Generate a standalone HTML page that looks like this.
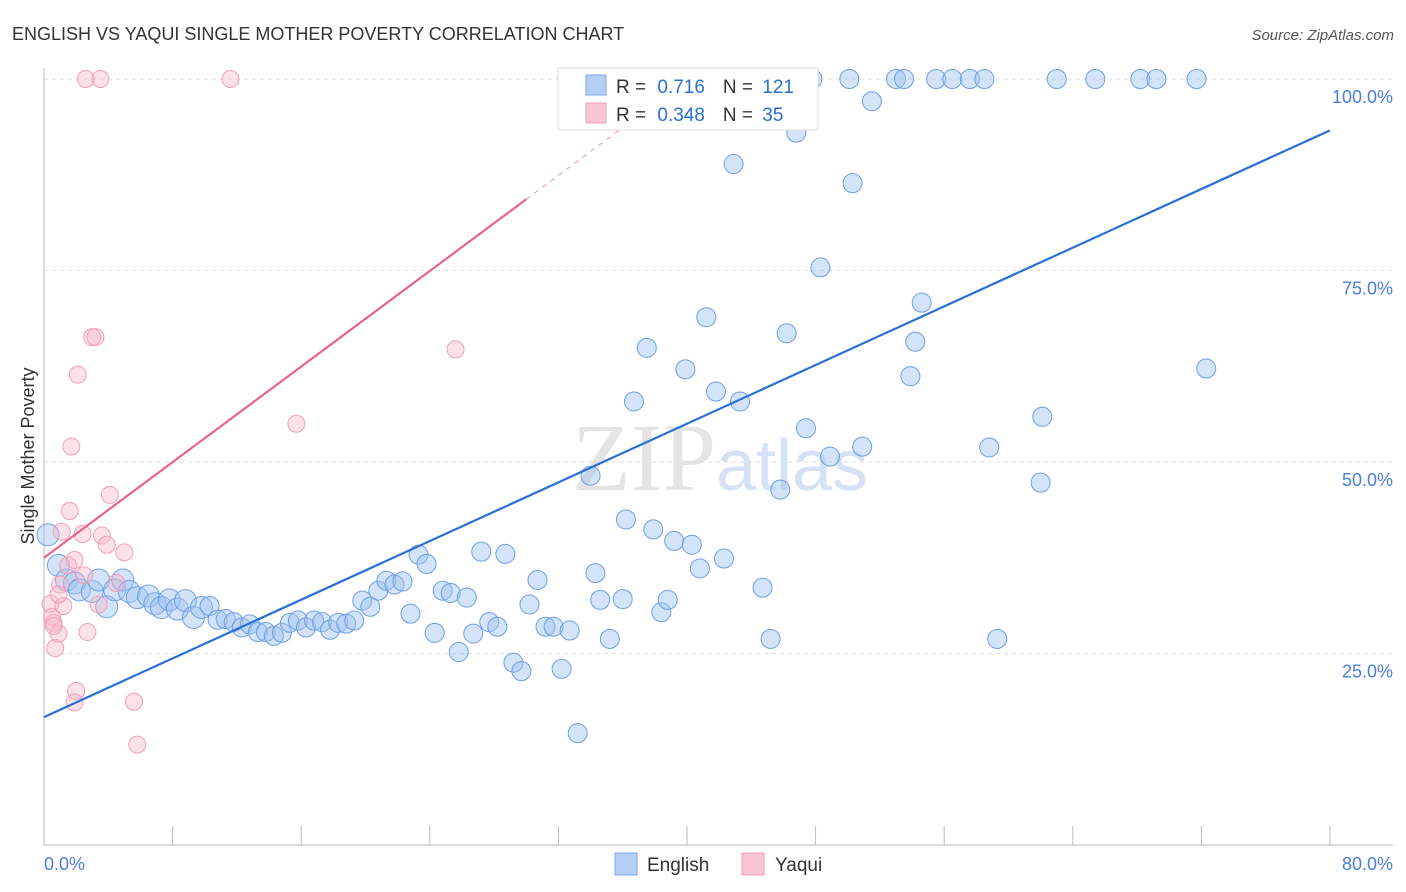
<!DOCTYPE html>
<html><head><meta charset="utf-8"><style>
body{margin:0;background:#fff;font-family:"Liberation Sans",sans-serif}
svg{display:block}
</style></head><body>
<svg id="chart" width="1406" height="892" xmlns="http://www.w3.org/2000/svg" font-family="Liberation Sans, sans-serif">
<text x="12" y="40" font-size="18" fill="#333">ENGLISH VS YAQUI SINGLE MOTHER POVERTY CORRELATION CHART</text>
<text x="1394" y="40" font-size="15" fill="#555" text-anchor="end" font-style="italic">Source: ZipAtlas.com</text>
<text x="720" y="490" font-size="96" fill="#e4e4e4" text-anchor="middle" font-family="Liberation Serif, serif">ZIP<tspan fill="#d6e2f4" font-family="Liberation Sans, sans-serif" font-size="72">atlas</tspan></text>
<g id="grid"></g><g id="axes"></g><g id="pts"></g><g id="lines"></g>
<text transform="translate(34,456) rotate(-90)" font-size="18" fill="#333" text-anchor="middle">Single Mother Poverty</text>
<g>
<rect x="558" y="68" width="260" height="62" fill="#fff" stroke="#ddd"/>
<rect x="586" y="75" width="20" height="20" fill="#b4cff3" stroke="#7aaae8"/>
<rect x="586" y="103" width="20" height="20" fill="#fac4d2" stroke="#f0a0b8"/>
<text x="616" y="93" font-size="19" fill="#333">R = <tspan fill="#2a6fd6" dx="6">0.716</tspan><tspan dx="18" fill="#333">N = </tspan><tspan fill="#2a6fd6" dx="4">121</tspan></text>
<text x="616" y="121" font-size="19" fill="#333">R = <tspan fill="#2a6fd6" dx="6">0.348</tspan><tspan dx="18" fill="#333">N = </tspan><tspan fill="#2a6fd6" dx="4">35</tspan></text>
</g>
<g>
<rect x="615" y="853" width="22" height="22" fill="#b4cff3" stroke="#7aaae8"/>
<text x="647" y="871" font-size="19" fill="#333">English</text>
<rect x="742" y="853" width="22" height="22" fill="#fac4d2" stroke="#f0a0b8"/>
<text x="775" y="871" font-size="19" fill="#333">Yaqui</text>
</g>
</svg>
<script>
const englishX=[0.25,0.9,1.4,1.9,2.2,3.0,3.4,3.9,4.4,4.9,5.3,5.8,6.5,6.9,7.3,7.8,8.3,8.8,9.3,9.8,10.3,10.8,11.3,11.8,12.3,12.8,13.3,13.8,14.3,14.8,15.3,15.8,16.3,16.8,17.3,17.8,18.3,18.8,19.3,19.8,20.3,20.8,21.3,21.8,22.3,22.8,23.3,23.8,24.3,24.8,25.3,25.8,26.3,26.7,27.2,27.7,28.2,28.7,29.2,29.7,30.2,30.7,31.2,31.7,32.2,32.7,33.2,34.0,34.3,34.6,35.2,36.0,36.2,36.7,37.5,37.9,38.4,38.8,39.2,39.9,40.3,40.8,41.2,41.8,42.3,42.9,43.3,43.9,44.7,45.2,45.8,46.2,46.8,47.4,47.8,48.3,48.9,50.1,50.3,50.9,51.5,53.0,53.5,53.9,54.2,54.6,55.5,56.5,57.6,58.5,58.8,59.3,62.0,62.1,63.0,65.4,68.2,69.2,71.7,72.3];
const englishY=[40.5,36.5,34.6,34.2,33.3,33.1,34.6,31.1,33.3,34.6,33.1,32.3,32.5,31.5,31.0,32.0,30.8,31.9,29.7,31.0,31.2,29.4,29.5,29.1,28.4,28.8,27.8,27.8,27.3,27.7,29.0,29.3,28.4,29.3,29.1,28.1,29.0,28.9,29.3,31.9,31.1,33.2,34.5,34.0,34.4,30.2,37.9,36.7,27.7,33.2,32.9,25.2,32.3,27.6,38.3,29.1,28.5,38.0,23.8,22.7,31.4,34.6,28.5,28.5,23.0,28.0,14.6,48.2,35.5,32.0,26.9,32.1,42.5,57.9,64.9,41.2,30.4,32.0,39.7,62.1,39.2,36.1,68.9,59.2,37.4,88.9,57.9,100,33.6,26.9,46.4,66.8,93.0,54.4,100,75.4,50.7,100,86.4,52.0,97.1,100,100,61.2,65.7,70.8,100,100,100,100,51.9,26.9,47.3,55.9,100,100,100,100,100,62.2];
const yaquiX=[0.4,0.5,0.6,0.7,0.9,0.6,1.0,1.2,1.5,1.6,1.7,1.9,2.0,1.9,2.1,2.4,2.5,2.7,2.6,3.0,3.2,3.5,3.4,3.6,3.9,4.1,4.5,5.0,5.6,5.8,11.6,15.7,25.6,1.1,0.9];
const yaquiY=[31.5,29.8,29.0,25.7,27.6,28.6,34.0,31.2,36.5,43.6,52.0,37.2,20.1,18.6,61.4,40.6,35.2,27.8,100,66.3,66.3,100,31.4,40.4,39.2,45.7,34.2,38.2,18.7,13.1,100,55.0,64.7,40.9,32.7];
const englishTrend=[16.7,93.3];
const yaquiTrend=[37.5,84.3];
const yTicks=[25,50,75,100];
const xTickLabels=["0.0%","80.0%"];
const NS="http://www.w3.org/2000/svg";
const X0=44,X1=1330,Y0=845,Y100=79;
const sx=v=>X0+v*(X1-X0)/80;
const sy=v=>Y0-v*(Y0-Y100)/100;
function mk(tag,attrs,parent){const e=document.createElementNS(NS,tag);for(const k in attrs)e.setAttribute(k,attrs[k]);parent.appendChild(e);return e;}
const grid=document.getElementById('grid'),axes=document.getElementById('axes'),pts=document.getElementById('pts'),lines=document.getElementById('lines');
yTicks.forEach(t=>{
 const l=mk('line',{x1:X0,x2:1393,y1:sy(t),y2:sy(t),stroke:'#ddd','stroke-dasharray':'4,4'},grid);
 
 
 const tx=mk('text',{x:1393,y:sy(t)+24,'font-size':18,fill:'#4a7fd8','text-anchor':'end'},grid);
 tx.textContent=t.toFixed(1)+'%';
 
 
});
const ax=mk('line',{x1:X0,x2:1393,y1:Y0,y2:Y0,stroke:'#bbb'},axes);


const ay=mk('line',{x1:X0,x2:X0,y1:68,y2:Y0,stroke:'#bbb'},axes);


for(let i=0;i<=10;i++){
 const tk=mk('line',{x1:sx(i*8),x2:sx(i*8),y1:826,y2:Y0,stroke:'#bbb'},axes);
 
 
}
const xl0=mk('text',{x:44,y:870,'font-size':18,fill:'#4a7fd8'},axes);
xl0.textContent=xTickLabels[0];


const xl1=mk('text',{x:1393,y:870,'font-size':18,fill:'#4a7fd8','text-anchor':'end'},axes);
xl1.textContent=xTickLabels[1];


englishX.forEach((x,i)=>{
 const r=x<10?11:9.5;
 const c=mk('circle',{cx:sx(x),cy:sy(englishY[i]),r:r,fill:'rgba(160,196,240,0.45)',stroke:'#6d9fe6','stroke-width':1},pts);
 
 
});
yaquiX.forEach((x,i)=>{
 const c=mk('circle',{cx:sx(x),cy:sy(yaquiY[i]),r:8.5,fill:'rgba(248,180,200,0.4)',stroke:'#f0a0b8','stroke-width':1},pts);
 
 
});
const bl=mk('line',{x1:sx(0),y1:sy(englishTrend[0]),x2:sx(80),y2:sy(englishTrend[1]),stroke:'#2a6fd6','stroke-width':2.2},lines);


const slope=(yaquiTrend[1]-yaquiTrend[0])/30;
const pl=mk('line',{x1:sx(0),y1:sy(yaquiTrend[0]),x2:sx(30),y2:sy(yaquiTrend[1]),stroke:'#e8648c','stroke-width':2.2},lines);


const xe=(100-yaquiTrend[0])/slope;
const pd=mk('line',{x1:sx(30),y1:sy(yaquiTrend[1]),x2:sx(xe),y2:sy(100),stroke:'#f0a0b8','stroke-width':1.2,'stroke-dasharray':'5,5'},lines);


</script>
</body></html>
